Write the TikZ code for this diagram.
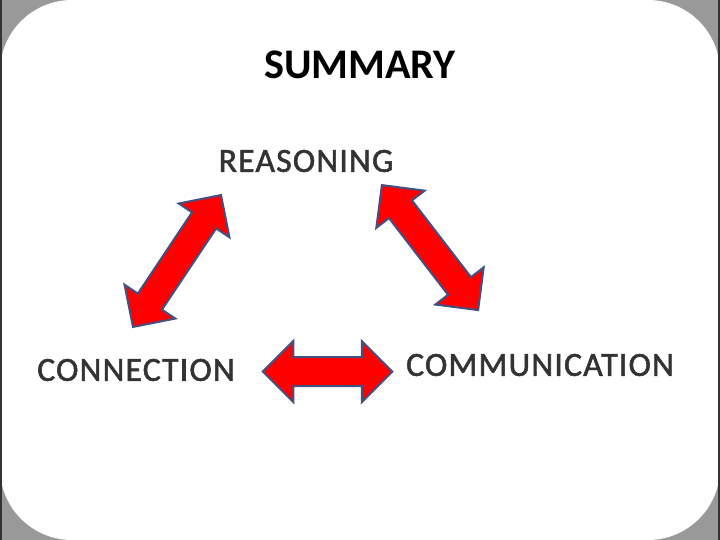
\documentclass[tikz,border=0pt]{standalone}
\usepackage{fontspec}
\setmainfont{Carlito}
\newfontfamily\topicfont[FakeBold=1.6, LetterSpace=3.5]{Carlito}
\usepackage{tikz}
\usetikzlibrary{shapes, arrows}
\definecolor{edgeblue}{RGB}{68,80,128}
\tikzstyle{heading} = [font=\fontsize{30}{36}\selectfont\bfseries, text=black, inner sep=0pt]
\tikzstyle{topic} = [font=\topicfont\fontsize{24}{29}\selectfont, text=black!80, inner sep=0pt]
\tikzstyle{twoway} = [double arrow, double arrow head extend=0.4cm, inner xsep=0pt, inner ysep=0.3375cm, minimum width=0pt, fill=red, draw=edgeblue, line width=0.05cm]

\begin{document}
\begin{tikzpicture}[node distance=2.4cm, align=center]
\useasboundingbox (0,0) rectangle (18,-13.5);
\fill[black!40] (0,0) rectangle (18,-13.5);
\fill[white, rounded corners=1.8cm] (0,0) rectangle (18,-13.5);
\draw[black!80, line width=0.04cm] (0.02,0) -- (0.02,-13.5);
\draw[black!80, line width=0.04cm] (17.98,0) -- (17.98,-13.5);

\node (title) [heading] at (9,-1.625) {SUMMARY};
\node (reasoning) [topic, below of=title, xshift=-1.35cm] {REASONING};
\node (connection) [topic, below of=reasoning, xshift=-4.25cm, yshift=-2.825cm] {CONNECTION};
\node (communication) [topic, right of=connection, xshift=7.7cm, yshift=0.125cm] {COMMUNICATION};

\node (reasonConn) [twoway, minimum height=3.965cm, rotate=56.3] at (4.425,-6.525) {};
\node (reasonComm) [twoway, minimum height=3.945cm, rotate=-52.4] at (10.75,-6.19) {};
\node (connComm) [twoway, minimum height=3.24cm] at (8.19,-9.29) {};

\end{tikzpicture}
\end{document}
